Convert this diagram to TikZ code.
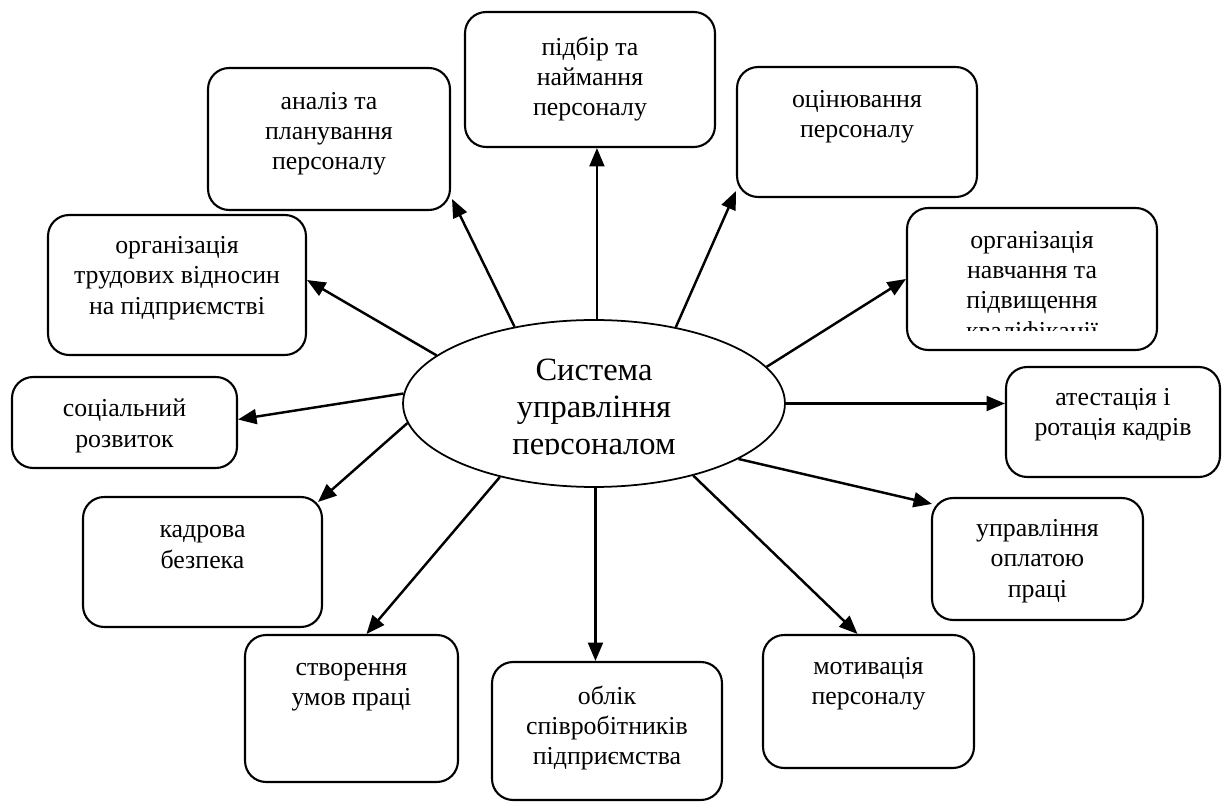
\documentclass[tikz,border=0pt]{standalone}
\usepackage{fontspec}
\setmainfont{Liberation Serif}
\usetikzlibrary{arrows.meta,calc,shapes.geometric}
\begin{document}
\begin{tikzpicture}[x=0.02cm,y=-0.02cm,
  box/.style={draw,line width=1.2pt,rounded corners=12pt,inner sep=0pt},
  txt/.style={align=center,inner sep=0pt,font=\fontsize{14.7pt}{17.2pt}\selectfont},
  bigtxt/.style={align=center,inner sep=0pt,font=\fontsize{18.5pt}{21pt}\selectfont},
  arr/.style={line width=1.4pt,-{Triangle[length=10.5pt,width=8.5pt]}},
]
\fill[white] (0,0) rectangle (1225,803);
\useasboundingbox (0,0) rectangle (1225,803);

% boxes
\node[box,minimum width=5.0cm,minimum height=2.7cm] (b1) at (590,79.5) {};
\node[box,minimum width=4.84cm,minimum height=2.84cm] (b2) at (329,139) {};
\node[box,minimum width=4.8cm,minimum height=2.6cm] (b3) at (857,132) {};
\node[box,minimum width=5.16cm,minimum height=2.8cm] (b4) at (177,285) {};
\node[box,minimum width=5.0cm,minimum height=2.84cm] (b5) at (1032,279) {};
\node[box,minimum width=4.5cm,minimum height=1.82cm] (b6) at (124.5,422.5) {};
\node[box,minimum width=4.28cm,minimum height=2.2cm] (b7) at (1113,422) {};
\node[box,minimum width=4.78cm,minimum height=2.6cm] (b8) at (202.5,562) {};
\node[box,minimum width=4.22cm,minimum height=2.44cm] (b9) at (1037.5,559) {};
\node[box,minimum width=4.26cm,minimum height=2.94cm] (b10) at (351.5,708.5) {};
\node[box,minimum width=4.6cm,minimum height=2.76cm] (b11) at (607,731) {};
\node[box,minimum width=4.22cm,minimum height=2.66cm] (b12) at (868.5,701.5) {};

% ellipse
\node[draw,ellipse,line width=1.0pt,inner sep=0pt,minimum width=7.64cm,minimum height=3.34cm] (e) at (594,403.5) {};

% texts
\node[txt] (t1) at (590,79) {підбір та\\наймання\\персоналу};
\node[txt] (t2) at (329,134) {аналіз та\\планування\\персоналу};
\node[txt] (t3) at (857,116.5) {оцінювання\\персоналу};
\node[txt] (t4) at (177,278) {організація\\трудових відносин\\на підприємстві};
\begin{scope}
\clip (900,200) rectangle (1165,331);
\node[txt] (t5) at (1032,288) {організація\\навчання та\\підвищення\\кваліфікації};
\end{scope}
\node[txt] (t6) at (124.5,426) {соціальний\\розвиток};
\node[txt] (t7) at (1113,415) {атестація і\\ротація кадрів};
\node[txt] (t8) at (202.5,547) {кадрова\\безпека};
\node[txt] (t9) at (1037.5,561) {управління\\оплатою\\праці};
\node[txt] (t10) at (351.5,687.5) {створення\\умов праці};
\node[txt] (t11) at (607,728) {облік\\співробітників\\підприємства};
\node[txt] (t12) at (868.5,684) {мотивація\\персоналу};
\begin{scope}
\clip (420,330) rectangle (770,455);
\node[bigtxt] (te) at (594,410) {Система\\управління\\персоналом};
\end{scope}

% arrows
\draw[arr] (e.88) -- (e.88 |- b1.south);
\draw[arr] (e.136) -- ($(b2.south east)+(1,-12)$);
\draw[arr] (e.43) -- ($(b3.south west)+(0,-7)$);
\draw[arr] (e.163) -- ($(b4.east)+(0,-5)$);
\draw[arr] (e.12) -- (b5.west);
\draw[arr] (e.east) -- (e.east -| b7.west);
\draw[arr] (e.177) -- ($(b6.east)+(0,-3)$);
\draw[arr] (e.186) -- ($(b8.north east)+(-5,6)$);
\draw[arr] (e.-21) -- ($(b9.north west)+(1,7)$);
\draw[arr] (e.-142) -- ($(b10.north)+(15,0)$);
\draw[arr] (e.-89) -- (e.-89 |- b11.north);
\draw[arr] (e.-36) -- ($(b12.north)+(-11,0)$);
\end{tikzpicture}
\end{document}
